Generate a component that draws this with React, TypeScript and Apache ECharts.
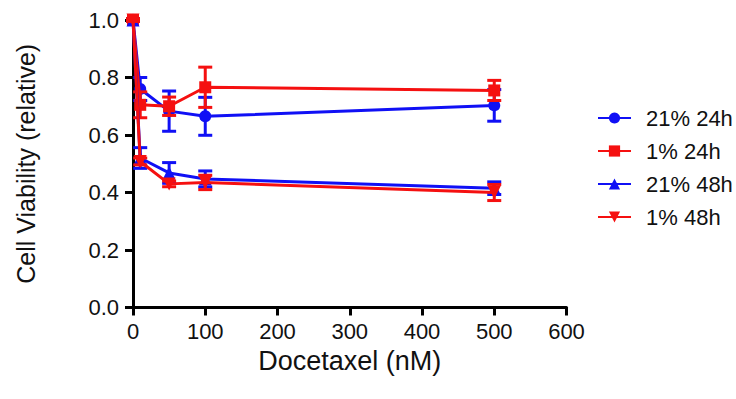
import React, { useEffect, useRef } from "react";
import * as echarts from "echarts";

const doses = [0, 10, 50, 100, 500];
const o21h24 = [1.0, 0.76, 0.683, 0.665, 0.703];
const o21h24Err = [0.005, 0.04, 0.07, 0.066, 0.055];
const o1h24 = [1.0, 0.705, 0.7, 0.766, 0.755];
const o1h24Err = [0.005, 0.045, 0.032, 0.07, 0.035];
const o21h48 = [1.0, 0.52, 0.468, 0.447, 0.415];
const o21h48Err = [0.005, 0.036, 0.036, 0.028, 0.022];
const o1h48 = [1.0, 0.508, 0.43, 0.435, 0.4];
const o1h48Err = [0.005, 0.012, 0.01, 0.025, 0.028];

const seriesNames = ["21% 24h", "1% 24h", "21% 48h", "1% 48h"];
const xTicks = { min: 0, max: 600, interval: 100 };
const yTicks = { min: 0, max: 1.0, interval: 0.2 };

const BLUE = "#1010f5";
const RED = "#f51010";
const FONT = "Liberation Sans, Arial, sans-serif";
const DOWN_TRI = "path://M0,0 L10,0 L5,9 Z";

export default function App() {
  const ref = useRef<HTMLDivElement>(null);
  useEffect(() => {
    document.body.style.margin = "0";
    const chart = echarts.init(ref.current!, null, { renderer: "svg" });
    const groups = [
      { name: seriesNames[0], vals: o21h24, err: o21h24Err, color: BLUE, symbol: "circle", size: 12 },
      { name: seriesNames[1], vals: o1h24, err: o1h24Err, color: RED, symbol: "rect", size: 12 },
      { name: seriesNames[2], vals: o21h48, err: o21h48Err, color: BLUE, symbol: "triangle", size: 13 },
      { name: seriesNames[3], vals: o1h48, err: o1h48Err, color: RED, symbol: DOWN_TRI, size: 13 },
    ];
    const series: any[] = [];
    groups.forEach((g, gi) => {
      series.push({
        type: "custom",
        name: g.name + " err",
        z: 2 + gi * 2,
        data: doses.map((d, i) => [d, g.vals[i] - g.err[i], g.vals[i] + g.err[i]]),
        renderItem: (params: any, api: any) => {
          const lo = api.coord([api.value(0), api.value(1)]);
          const hi = api.coord([api.value(0), api.value(2)]);
          const w = 7;
          const st = { stroke: g.color, lineWidth: 3 };
          return {
            type: "group",
            children: [
              { type: "line", shape: { x1: lo[0], y1: lo[1], x2: hi[0], y2: hi[1] }, style: st },
              { type: "line", shape: { x1: lo[0] - w, y1: lo[1], x2: lo[0] + w, y2: lo[1] }, style: st },
              { type: "line", shape: { x1: hi[0] - w, y1: hi[1], x2: hi[0] + w, y2: hi[1] }, style: st },
            ],
          };
        },
      });
      series.push({
        type: "line",
        name: g.name,
        z: 3 + gi * 2,
        data: doses.map((d, i) => [d, g.vals[i]]),
        symbol: g.symbol,
        symbolSize: g.size,
        showAllSymbol: true,
        lineStyle: { color: g.color, width: 3 },
        itemStyle: { color: g.color },
      });
    });
    chart.setOption({
      animation: false,
      backgroundColor: "#ffffff",
      textStyle: { fontFamily: FONT },
      grid: { left: 133, top: 20, width: 433.5, height: 287.5 },
      legend: {
        data: seriesNames,
        orient: "vertical",
        left: 592,
        top: 102,
        itemWidth: 33,
        itemHeight: 14,
        itemGap: 11,
        textStyle: { fontSize: 22, color: "#111", fontFamily: FONT, padding: [0, 0, 0, 10] },
      },
      xAxis: {
        type: "value",
        min: xTicks.min,
        max: xTicks.max,
        interval: xTicks.interval,
        name: "Docetaxel (nM)",
        nameLocation: "middle",
        nameGap: 30,
        nameTextStyle: { fontSize: 27, color: "#111", fontFamily: FONT },
        axisLine: { show: true, lineStyle: { color: "#000", width: 3 } },
        axisTick: { show: true, length: 8, lineStyle: { color: "#000", width: 3 } },
        axisLabel: { fontSize: 22, color: "#111", margin: 13 },
        splitLine: { show: false },
      },
      yAxis: {
        type: "value",
        min: yTicks.min,
        max: yTicks.max,
        interval: yTicks.interval,
        name: "Cell Viability (relative)",
        nameLocation: "middle",
        nameGap: 95,
        nameTextStyle: { fontSize: 25, color: "#111", fontFamily: FONT },
        axisLine: { show: true, lineStyle: { color: "#000", width: 3 } },
        axisTick: { show: true, length: 8, lineStyle: { color: "#000", width: 3 } },
        axisLabel: { fontSize: 22, color: "#111", margin: 14, formatter: (v: number) => v.toFixed(1) },
        splitLine: { show: false },
      },
      series,
    });
    return () => chart.dispose();
  }, []);
  return <div ref={ref} style={{ width: 736, height: 399 }} />;
}
